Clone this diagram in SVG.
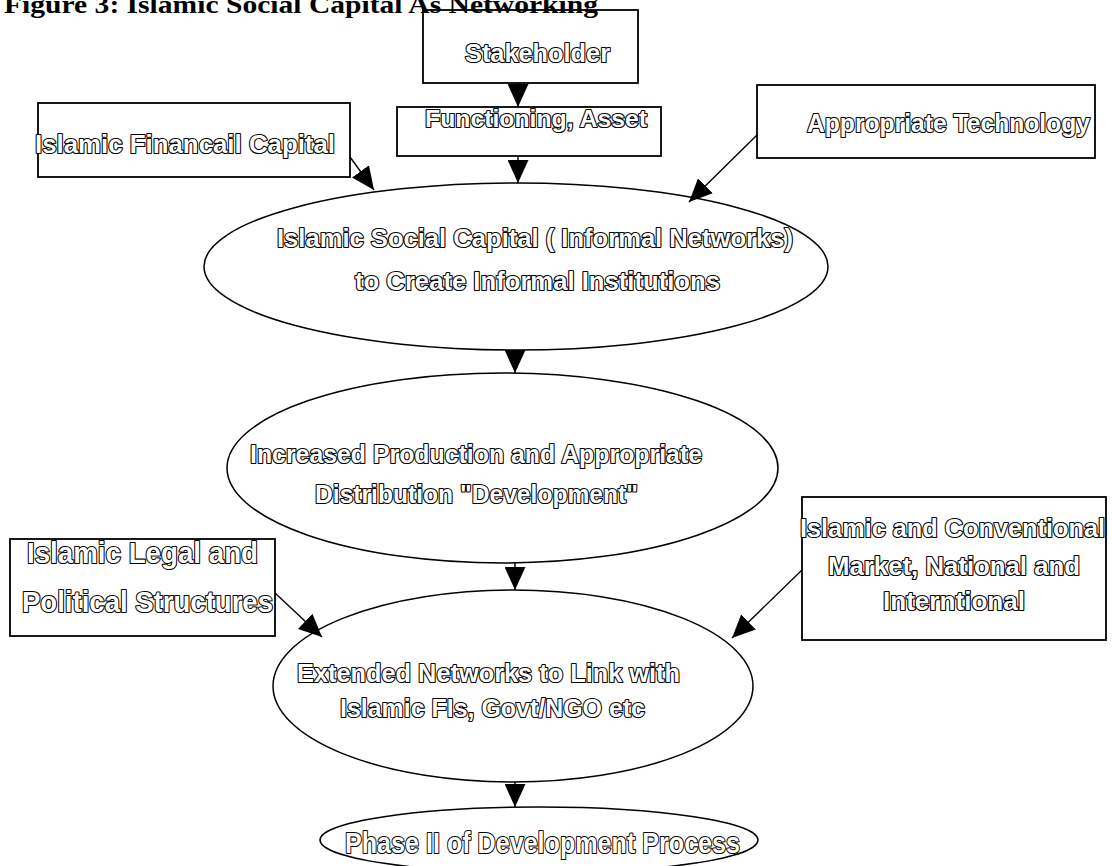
<svg xmlns="http://www.w3.org/2000/svg" width="1112" height="866" viewBox="0 0 1112 866">
<style>
.bg{fill:#fff}
.box{fill:#fff;stroke:#000;stroke-width:1.8}
.ell{fill:#fff;stroke:#000;stroke-width:1.5}
.t{font-family:"Liberation Sans",Arial,sans-serif;font-weight:bold;fill:#fff;stroke:#000;stroke-width:2.2;stroke-linejoin:round;paint-order:stroke;text-anchor:middle}
.title{font-family:"Liberation Serif","Times New Roman",serif;font-weight:bold;font-size:26px;fill:#000}
.conn line{stroke:#000;stroke-width:1.4;marker-end:url(#ah)}
</style>
<defs>
<marker id="ah" markerUnits="userSpaceOnUse" markerWidth="23" markerHeight="21" refX="23" refY="10.5" orient="auto" viewBox="0 0 23 21">
<path d="M0,0 L23,10.5 L0,21 Z" fill="#000"/>
</marker>
</defs>
<rect class="bg" x="0" y="0" width="1112" height="866"/>

<g id="stakeholder">
<rect class="box" x="423" y="10" width="215" height="73"/>
<text class="t" x="537.5" y="62" font-size="26" textLength="145" lengthAdjust="spacingAndGlyphs">Stakeholder</text>
</g>
<g id="functioning">
<rect class="box" x="397" y="107" width="264" height="49"/>
<text class="t" x="536" y="127" font-size="24" textLength="222" lengthAdjust="spacingAndGlyphs">Functioning, Asset</text>
</g>
<g id="financial">
<rect class="box" x="38" y="103" width="312" height="74"/>
<text class="t" x="185" y="153" font-size="26" textLength="300" lengthAdjust="spacingAndGlyphs">Islamic Financail Capital</text>
</g>
<g id="technology">
<rect class="box" x="757" y="85" width="338" height="73"/>
<text class="t" x="948.5" y="132" font-size="26" textLength="283" lengthAdjust="spacingAndGlyphs">Appropriate Technology</text>
</g>
<g id="social">
<ellipse class="ell" cx="516" cy="266.5" rx="312" ry="83.5"/>
<text class="t" x="535" y="247" font-size="25" textLength="516" lengthAdjust="spacingAndGlyphs">Islamic Social Capital ( Informal Networks)</text>
<text class="t" x="537.5" y="290" font-size="25" textLength="365" lengthAdjust="spacingAndGlyphs">to Create Informal Institutions</text>
</g>
<g id="production">
<ellipse class="ell" cx="502.5" cy="468" rx="275.5" ry="95"/>
<text class="t" x="476" y="463" font-size="25" textLength="452" lengthAdjust="spacingAndGlyphs">Increased Production and Appropriate</text>
<text class="t" x="476.5" y="503" font-size="25" textLength="323" lengthAdjust="spacingAndGlyphs">Distribution "Development"</text>
</g>
<g id="legal">
<rect class="box" x="10" y="539" width="265" height="97"/>
<text class="t" x="142.5" y="563" font-size="29" textLength="231" lengthAdjust="spacingAndGlyphs">Islamic Legal and</text>
<text class="t" x="147.5" y="612" font-size="29" textLength="251" lengthAdjust="spacingAndGlyphs">Political Structures</text>
</g>
<g id="market">
<rect class="box" x="802" y="497" width="304" height="143"/>
<text class="t" x="952.5" y="537" font-size="25" textLength="305" lengthAdjust="spacingAndGlyphs">Islamic and Conventional</text>
<text class="t" x="954" y="575" font-size="25" textLength="252" lengthAdjust="spacingAndGlyphs">Market, National and</text>
<text class="t" x="954" y="610" font-size="25" textLength="142" lengthAdjust="spacingAndGlyphs">Interntional</text>
</g>
<g id="extended">
<ellipse class="ell" cx="513" cy="686" rx="240" ry="96"/>
<text class="t" x="488.5" y="682" font-size="26" textLength="383" lengthAdjust="spacingAndGlyphs">Extended Networks to Link with</text>
<text class="t" x="492.5" y="717" font-size="26" textLength="305" lengthAdjust="spacingAndGlyphs">Islamic FIs, Govt/NGO etc</text>
</g>
<g id="phase2">
<ellipse class="ell" cx="539" cy="840" rx="219" ry="33"/>
<text class="t" x="542.5" y="853" font-size="30" textLength="395" lengthAdjust="spacingAndGlyphs">Phase II of Development Process</text>
</g>

<g id="connectors" class="conn">
<line x1="518" y1="83" x2="518" y2="107"/>
<line x1="518" y1="156" x2="518" y2="183"/>
<line x1="350" y1="157" x2="374" y2="190"/>
<line x1="757" y1="135" x2="689" y2="202"/>
<line x1="515" y1="350" x2="515" y2="373"/>
<line x1="515" y1="563" x2="515" y2="590"/>
<line x1="275" y1="593" x2="322" y2="637"/>
<line x1="802" y1="570" x2="732" y2="638"/>
<line x1="515" y1="782" x2="515" y2="807"/>
</g>

<text class="title" x="4" y="13" textLength="594" lengthAdjust="spacingAndGlyphs">Figure 3: Islamic Social Capital As Networking</text>
</svg>
